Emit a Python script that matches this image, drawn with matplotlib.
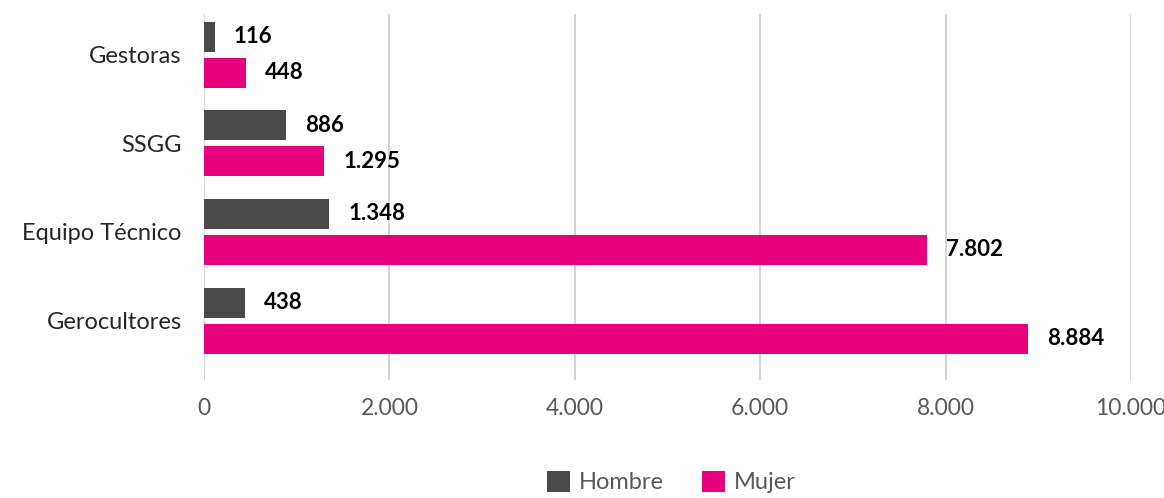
import matplotlib.pyplot as plt
from matplotlib.ticker import FuncFormatter
import numpy as np

plt.rcParams['font.family'] = ['Lato', 'DejaVu Sans']

categorias = ['Gestoras', 'SSGG', 'Equipo Técnico', 'Gerocultores']
hombre = [116, 886, 1348, 438]
mujer = [448, 1295, 7802, 8884]
ticks = [0, 2000, 4000, 6000, 8000, 10000]

gris = '#4a4a4a'
rosa = '#e6007e'


def miles(v):
    return f'{int(v):,}'.replace(',', '.')


fig = plt.figure(figsize=(11.64, 4.98), dpi=100)
ax = fig.add_axes([0.1753, 0.237, 0.7964, 0.735])

y = np.arange(len(categorias))
h = 0.34
off = 0.203
b1 = ax.barh(y - off, hombre, height=h, color=gris, label='Hombre')
b2 = ax.barh(y + off, mujer, height=h, color=rosa, label='Mujer')

for bars, vals in ((b1, hombre), (b2, mujer)):
    for bar, v in zip(bars, vals):
        ax.annotate(miles(v), (bar.get_width(), bar.get_y() + bar.get_height() / 2),
                    xytext=(13.7, 0), textcoords='offset points',
                    va='center', ha='left', fontsize=16, fontweight='bold', color='black')

ax.set_xlim(0, 10000)
ax.set_ylim(3.67, -0.46)
ax.set_xticks(ticks)
ax.xaxis.set_major_formatter(FuncFormatter(lambda v, p: miles(v)))
ax.set_yticks(y)
ax.set_yticklabels(categorias, fontsize=17, color='#262626')
ax.tick_params(axis='x', labelsize=16.5, labelcolor='#595959', length=0, pad=13)
ax.tick_params(axis='y', length=0, pad=16)

ax.grid(axis='x', color='#d0d0d0', linewidth=1.3)
ax.set_axisbelow(True)
for s in ax.spines.values():
    s.set_visible(False)

fig.legend(handles=[b1, b2], labels=['Hombre', 'Mujer'], loc='center',
           bbox_to_anchor=(0.577, 0.032), ncol=2, frameon=False,
           fontsize=17, handlelength=0.95, handleheight=1.0, columnspacing=1.6,
           handletextpad=0.4, labelcolor='#595959')

fig.savefig('out.png', dpi=100)
